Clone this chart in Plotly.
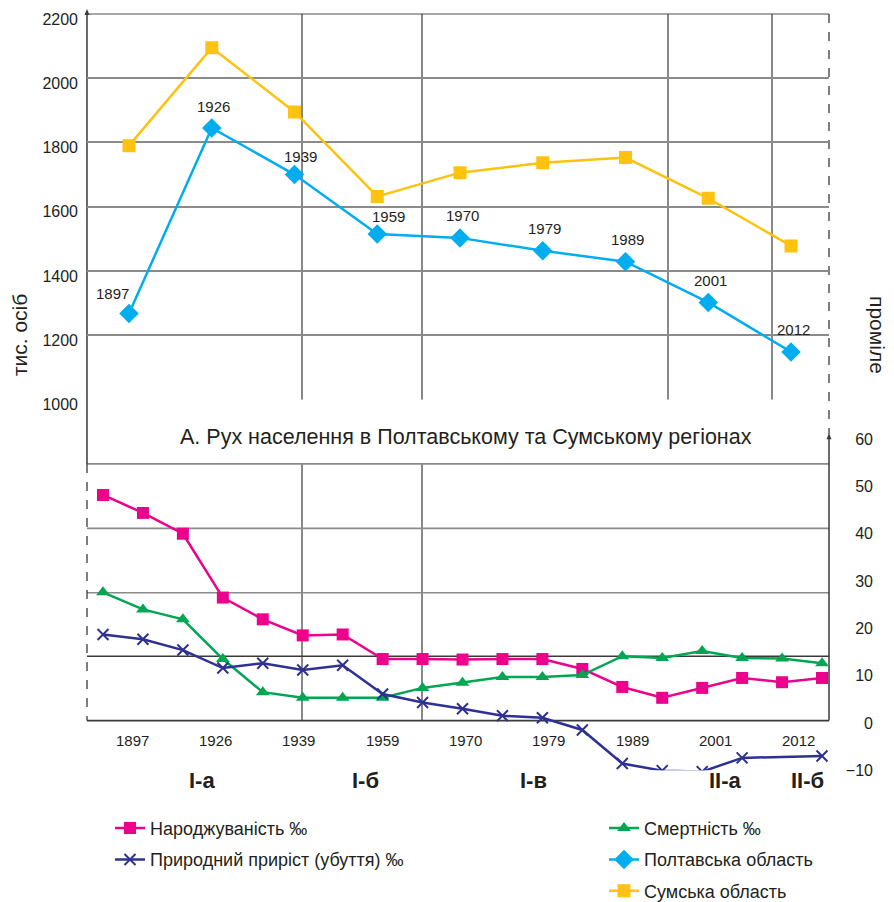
import plotly.graph_objects as go

W, H = 894, 902
OFF = 8  # поле сторінки браузера


def px(x):
    return (x - OFF) / W


def py(y):
    return 1 - (y - OFF) / H


# --- дані ---
years = ["1897", "1926", "1939", "1959", "1970", "1979", "1989", "2001", "2012"]
poltava = [1268, 1845, 1700, 1515, 1503, 1463, 1429, 1302, 1148]
sumy = [1790, 2095, 1895, 1632, 1706, 1737, 1753, 1626, 1478]

steps = list(range(19))
births = [48.2, 44.4, 40.0, 26.5, 21.9, 18.5, 18.7, 13.5, 13.5, 13.4,
          13.5, 13.5, 11.4, 7.6, 5.3, 7.4, 9.5, 8.6, 9.5]
deaths = [27.6, 24.0, 21.9, 13.5, 6.5, 5.3, 5.3, 5.3, 7.4, 8.5,
          9.7, 9.7, 10.1, 14.1, 13.7, 15.2, 13.7, 13.6, 12.6]
natural = [18.7, 17.7, 15.4, 11.6, 12.6, 11.2, 12.2, 6.1, 4.3, 3.0,
           1.5, 1.1, -1.5, -8.6, -10.1, -10.3, -7.4, None, -7.0]

pop_ticks = [1000, 1200, 1400, 1600, 1800, 2000, 2200]
prom_ticks = [-10, 0, 10, 20, 30, 40, 50, 60]
periods = ["І-а", "І-б", "І-в", "ІІ-а", "ІІ-б"]
period_x = [202, 365, 533, 725, 807]

FONT = "Liberation Sans, Arial, sans-serif"
TXT = "#231f20"
YELLOW = "#ffc20e"
CYAN = "#00aeef"
MAGENTA = "#ec008c"
GREEN = "#00a651"
NAVY = "#2e3192"
GRID = "#8a8a8a"
DARK = "#3a3a3a"

fig = go.Figure()

fig.add_trace(go.Scatter(
    x=years, y=sumy, name="Сумська область", mode="lines+markers",
    line=dict(color=YELLOW, width=2.5),
    marker=dict(symbol="square", size=13, color=YELLOW),
    xaxis="x", yaxis="y", legend="legend2", legendrank=3, legendgroup="s"))
fig.add_trace(go.Scatter(
    x=years, y=poltava, name="Полтавська область", mode="lines+markers",
    line=dict(color=CYAN, width=2.5),
    marker=dict(symbol="diamond", size=15, color=CYAN),
    xaxis="x", yaxis="y", legend="legend2", legendrank=2, legendgroup="p"))
fig.add_trace(go.Scatter(
    x=steps, y=births, name="Народжуваність ‰", mode="lines+markers",
    line=dict(color=MAGENTA, width=2.5),
    marker=dict(symbol="square", size=12, color=MAGENTA),
    xaxis="x2", yaxis="y2", legend="legend", legendrank=1, legendgroup="b"))
fig.add_trace(go.Scatter(
    x=steps, y=deaths, name="Смертність ‰", mode="lines+markers",
    line=dict(color=GREEN, width=2.5),
    marker=dict(symbol="triangle-up", size=12, color=GREEN),
    xaxis="x2", yaxis="y2", legend="legend2", legendrank=1, legendgroup="d"))
fig.add_trace(go.Scatter(
    x=steps, y=natural, name="Природний приріст (убуття) ‰", mode="lines+markers",
    connectgaps=True,
    line=dict(color=NAVY, width=2.5),
    marker=dict(symbol="x-thin", size=11, color=NAVY, line=dict(color=NAVY, width=2)),
    xaxis="x2", yaxis="y2", legend="legend", legendrank=2, legendgroup="n"))


def note(text, x, y, xref="paper", yref="paper", size=15, angle=0, **kw):
    return dict(x=x, y=y, xref=xref, yref=yref, text=text, showarrow=False,
                xanchor="center", yanchor="middle", textangle=angle,
                font=dict(size=size, color=TXT, family=FONT), **kw)


annotations = []
# підписи років біля точок Полтавської області
label_shift = {"1897": (-17, 20), "1959": (11, 18), "1939": (6, 18)}
for i, (yr, v) in enumerate(zip(years, poltava)):
    dx, dy = label_shift.get(yr, (2, 22))
    annotations.append(note(yr, i, v, "x", "y", xshift=dx, yshift=dy))
# роки під нижньою панеллю
for i, yr in enumerate(years):
    annotations.append(note(yr, i, py(747), "x", "paper", xshift=3 + i * 0.6))
for lab, xx in zip(periods, period_x):
    annotations.append(note("<b>%s</b>" % lab, px(xx), py(787), size=22))
annotations += [
    note("А. Рух населення в Полтавському та Сумському регіонах", px(466), py(441), size=21.5),
    note("тис. осіб", px(19), py(338), size=21, angle=-90),
    note("проміле", px(878), py(338), size=21, angle=90),
]

shapes = []


def seg(x0, y0, x1, y1, color, width=1.2, dash="solid"):
    shapes.append(dict(type="line", xref="paper", yref="paper",
                       x0=px(x0), y0=py(y0), x1=px(x1), y1=py(y1),
                       line=dict(color=color, width=width, dash=dash), layer="below"))


# верхня межа сітки
seg(87, 14, 829, 14, GRID, 1.6)
# вертикальні лінії сітки
for xx in [302, 422, 668, 772]:
    seg(xx, 14, xx, 403, DARK, 1.2)
for xx in [302, 422]:
    seg(xx, 468, xx, 727, DARK, 1.2)
# горизонтальні лінії нижньої панелі
for yy in [468, 533, 598]:
    seg(87, yy, 829, yy, GRID, 1.6)
seg(87, 662, 829, 662, DARK, 1.4)
seg(87, 727, 829, 727, DARK, 1.6)
# осі
seg(87, 12, 87, 468, DARK, 1.5)
seg(87, 468, 87, 727, DARK, 1.3, "dash")
seg(829, 14, 829, 438, DARK, 1.3, "dash")
seg(829, 441, 829, 727, DARK, 1.5)
for ax_x, ax_y in [(87, 9), (829, 437)]:
    shapes.append(dict(type="path", xref="paper", yref="paper",
                       path="M %f %f L %f %f L %f %f Z" % (
                           px(ax_x - 2.5), py(ax_y + 6), px(ax_x), py(ax_y), px(ax_x + 2.5), py(ax_y + 6)),
                       fillcolor=DARK, line=dict(width=0)))

fig.update_layout(
    width=W, height=H, autosize=False,
    margin=dict(l=0, r=0, t=0, b=0),
    paper_bgcolor="white", plot_bgcolor="white",
    font=dict(family=FONT, color=TXT),
    xaxis=dict(domain=[px(87), px(829)], range=[-0.5076, 8.459], type="category",
               anchor="y", visible=False),
    yaxis=dict(domain=[py(403), py(14)], range=[1000, 2200], anchor="x",
               tickvals=pop_ticks, showgrid=True, gridcolor=GRID, gridwidth=1.6,
               zeroline=False, showline=False, ticks="", ticklabelstandoff=8,
               ticklabeloverflow="allow", ticklabelshift=5,
               tickfont=dict(size=16, color=TXT), automargin=False, fixedrange=True),
    xaxis2=dict(domain=[px(87), px(829)], range=[-0.4006, 18.175],
                anchor="y2", visible=False),
    yaxis2=dict(domain=[py(777), py(443)], range=[-10, 60], anchor="free",
                position=px(873), side="left", tickvals=prom_ticks,
                showgrid=False, zeroline=False, showline=False, ticks="",
                ticklabelstandoff=0, ticklabeloverflow="allow",
                tickfont=dict(size=16, color=TXT), automargin=False),
    legend=dict(x=px(110), y=py(817), xanchor="left", yanchor="top",
                font=dict(size=18, color=TXT), tracegroupgap=5,
                bgcolor="rgba(0,0,0,0)", itemwidth=30),
    legend2=dict(x=px(604), y=py(817), xanchor="left", yanchor="top",
                 font=dict(size=18, color=TXT), tracegroupgap=5,
                 bgcolor="rgba(0,0,0,0)", itemwidth=30),
    showlegend=True,
    annotations=annotations,
    shapes=shapes,
)

fig.write_html("out.html")
